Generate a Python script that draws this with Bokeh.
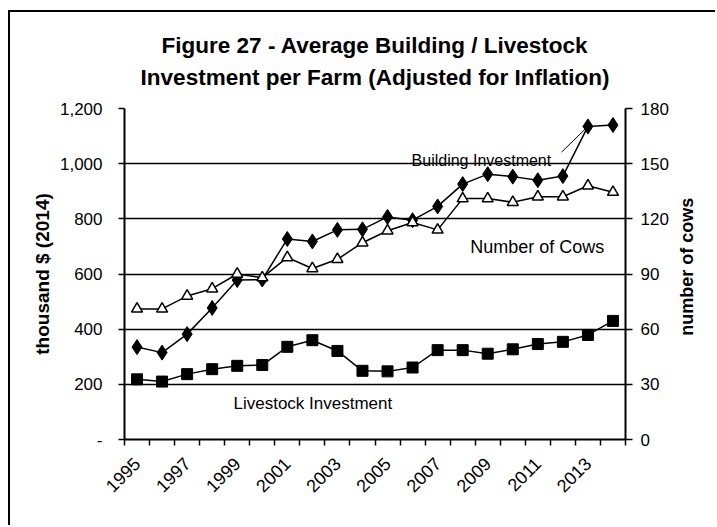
from math import pi
from bokeh.plotting import figure
from bokeh.layouts import row
from bokeh.models import (Range1d, LinearAxis, FixedTicker, NumeralTickFormatter, Label)
from bokeh.core.properties import value
from bokeh.embed import file_html
from bokeh.resources import INLINE

# ---------------- data ----------------
years = list(range(1995, 2015))
building = [335, 315, 382, 477, 578, 580, 727, 718, 760, 762,
            807, 795, 845, 926, 962, 953, 940, 955, 1135, 1140]
livestock = [218, 210, 237, 255, 267, 270, 336, 360, 321, 249,
             247, 261, 324, 324, 311, 327, 346, 354, 379, 430]
cows = [71, 71, 78, 82, 90, 88, 99, 93, 98, 107,
        113.5, 118, 114, 131, 131, 129, 132, 132, 138, 134.5]
left_ticks = [0, 200, 400, 600, 800, 1000, 1200]
right_ticks = [0, 30, 60, 90, 120, 150, 180]
year_labels = [1995, 1997, 1999, 2001, 2003, 2005, 2007, 2009, 2011, 2013]
title_lines = ["Figure 27 - Average Building / Livestock",
               "Investment per Farm (Adjusted for Inflation)"]
series_names = ["Building Investment", "Number of Cows", "Livestock Investment"]
left_label = "thousand $ (2014)"
right_label = "number of cows"

FONT = "Liberation Sans"
cows_range = Range1d(0, 180)

p = figure(width=666, height=513, output_backend="svg", toolbar_location=None,
           x_range=Range1d(1994.5, 2014.5), y_range=Range1d(0, 1200),
           min_border_left=114, min_border_right=51,
           min_border_top=96, min_border_bottom=86,
           title="\n".join(title_lines))
p.extra_y_ranges = {"cows": cows_range}
p.outline_line_color = None
p.background_fill_color = "white"
p.border_fill_color = "white"

# two-line title
p.title.align = "center"
p.title.text_align = "center"
p.title.text_font = FONT
p.title.text_font_size = "22.5px"
p.title.text_font_style = "bold"
p.title.text_color = "black"
p.title.text_line_height = 1.25
p.title.standoff = 38

# x axis
xa = p.xaxis[0]
xa.ticker = FixedTicker(ticks=year_labels,
                        minor_ticks=[y - 0.5 for y in years] + [years[-1] + 0.5])
xa.major_tick_line_color = None
xa.minor_tick_in = 0
xa.minor_tick_out = 6
xa.minor_tick_line_color = "black"
xa.minor_tick_line_width = 1.5
xa.axis_line_color = "black"
xa.axis_line_width = 2
xa.major_label_orientation = pi / 4
xa.major_label_text_font = FONT
xa.major_label_text_font_size = "18px"
xa.major_label_text_color = "black"
xa.major_label_standoff = 15

# left axis
ya = p.yaxis[0]
ya.ticker = FixedTicker(ticks=left_ticks)
ya.formatter = NumeralTickFormatter(format="0,0")
ya.major_label_overrides = {0: "-"}
ya.major_tick_in = 0
ya.major_tick_out = 6
ya.major_tick_line_width = 1.5
ya.minor_tick_line_color = None
ya.axis_line_width = 2
ya.major_label_text_font = FONT
ya.major_label_text_font_size = "17px"
ya.major_label_text_color = "black"
ya.major_label_standoff = 16
ya.axis_label = left_label
ya.axis_label_text_font = FONT
ya.axis_label_text_font_size = "19px"
ya.axis_label_text_font_style = "bold"
ya.axis_label_text_color = "black"
ya.axis_label_standoff = 4

# right axis
ra = LinearAxis(y_range_name="cows", ticker=FixedTicker(ticks=right_ticks))
ra.major_tick_in = 0
ra.major_tick_out = 7
ra.major_tick_line_width = 1.5
ra.minor_tick_line_color = None
ra.axis_line_width = 2
ra.major_label_text_font = FONT
ra.major_label_text_font_size = "17px"
ra.major_label_text_color = "black"
ra.major_label_standoff = 8
p.add_layout(ra, "right")

# grid
p.xgrid.visible = False
p.ygrid.ticker = FixedTicker(ticks=left_ticks)
p.ygrid.grid_line_color = "black"
p.ygrid.grid_line_width = 1.5

# series
p.line(years, building, line_color="black", line_width=1.5)
p.scatter(years, building, marker="diamond", size=15, fill_color="black", line_color="black")

p.line(years, cows, line_color="black", line_width=1.5, y_range_name="cows")
p.scatter(years, cows, marker="triangle", size=11, fill_color="white", line_color="black",
          line_width=1.5, y_range_name="cows")

p.line(years, livestock, line_color="black", line_width=1.5)
p.scatter(years, livestock, marker="square", size=11, fill_color="black", line_color="black")

# annotations
p.add_layout(Label(x=2005.96, y=1011, text=series_names[0], text_font=FONT,
                   text_font_size="16px", text_baseline="middle", text_align="left",
                   text_color="black"))
p.add_layout(Label(x=2008.3, y=699, text=series_names[1], text_font=FONT,
                   text_font_size="18px", text_baseline="middle", text_align="left",
                   text_color="black"))
p.add_layout(Label(x=1998.85, y=129, text=series_names[2], text_font=FONT,
                   text_font_size="17px", text_baseline="middle", text_align="left",
                   text_color="black"))
p.segment(x0=[2011.95], y0=[1042], x1=[years[-2]], y1=[building[-2]],
          line_color="black", line_width=1)

# right-hand axis title (reads bottom to top), in a slim companion figure
q = figure(width=39, height=513, output_backend="svg", toolbar_location=None,
           x_range=Range1d(0, 1), y_range=cows_range,
           min_border_left=0, min_border_right=0,
           min_border_top=96, min_border_bottom=86,
           x_axis_location=None, y_axis_location=None)
q.outline_line_color = None
q.background_fill_color = "white"
q.border_fill_color = "white"
q.xgrid.visible = False
q.ygrid.visible = False
q.text(x=[0.28], y=[94], text=[right_label], angle=pi / 2,
       text_font=value(FONT), text_font_size="18px", text_font_style="bold",
       text_color="black", text_align="center", text_baseline="middle")

layout = row(p, q)
layout.styles = {"border-left": "2px solid black", "border-top": "2px solid black",
                 "margin-left": "8px", "margin-top": "10px"}

open("out.html", "w").write(file_html(layout, INLINE))
